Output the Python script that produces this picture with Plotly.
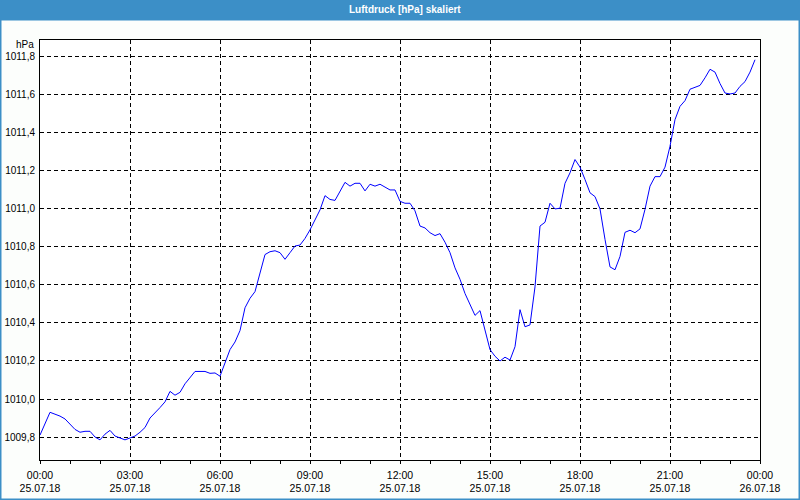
import plotly.graph_objects as go
import pandas as pd

title_text = "Luftdruck [hPa] skaliert"
unit_label = "hPa"

# 10-minute readings, 25.07.18 00:00 .. 23:50
start_time = "2018-07-25 00:00"
pressure_hpa = [
    1009.81, 1009.87, 1009.93, 1009.92, 1009.91, 1009.895, 1009.865, 1009.84, 1009.825, 1009.83,
    1009.83, 1009.80, 1009.785, 1009.815, 1009.835, 1009.805, 1009.795, 1009.785, 1009.795, 1009.805,
    1009.825, 1009.85, 1009.90, 1009.925, 1009.955, 1009.985, 1010.04, 1010.02, 1010.035, 1010.08,
    1010.11, 1010.145, 1010.145, 1010.145, 1010.135, 1010.137, 1010.12, 1010.196, 1010.26, 1010.30,
    1010.36, 1010.48, 1010.53, 1010.565, 1010.66, 1010.76, 1010.775, 1010.78, 1010.77, 1010.735,
    1010.77, 1010.805, 1010.81, 1010.845, 1010.89, 1010.94, 1010.995, 1011.07, 1011.05, 1011.045,
    1011.09, 1011.14, 1011.12, 1011.135, 1011.135, 1011.095, 1011.13, 1011.12, 1011.13, 1011.115,
    1011.10, 1011.10, 1011.04, 1011.03, 1011.03, 1010.99, 1010.91, 1010.90, 1010.875, 1010.86,
    1010.87, 1010.825, 1010.77, 1010.69, 1010.63, 1010.555, 1010.50, 1010.44, 1010.465, 1010.355,
    1010.26, 1010.225, 1010.20, 1010.22, 1010.205, 1010.275, 1010.47, 1010.38, 1010.39, 1010.59,
    1010.91, 1010.93, 1011.03, 1011.00, 1011.004, 1011.135, 1011.19, 1011.26, 1011.22, 1011.155,
    1011.085, 1011.065, 1011.00, 1010.84, 1010.695, 1010.68, 1010.75, 1010.877, 1010.888, 1010.875,
    1010.895, 1010.998, 1011.12, 1011.17, 1011.17, 1011.22, 1011.33, 1011.47, 1011.54, 1011.57,
    1011.63, 1011.64, 1011.65, 1011.69, 1011.735, 1011.72, 1011.66, 1011.61, 1011.605, 1011.61,
    1011.645, 1011.67, 1011.72, 1011.785,
]
times = pd.date_range(start_time, periods=len(pressure_hpa), freq="10min")

x_range = ["2018-07-25 00:00", "2018-07-26 00:00"]
y_range = [1009.679, 1011.889]

FONT = "Liberation Sans"
BLUE_BAR = "#3c8fc7"

fig = go.Figure()
fig.add_trace(go.Scatter(
    x=times, y=pressure_hpa, mode="lines",
    line=dict(color="#0000ff", width=1), showlegend=False,
))

# paper coords for the full 800x500 canvas (plot area 40..760 x 40..460)
L, R = -40 / 720, 760 / 720
T, B = 460 / 420, -40 / 420
bar_bottom = (460 - 20.5) / 420

fig.update_layout(
    width=800, height=500,
    margin=dict(l=40, r=40, t=40, b=40),
    paper_bgcolor="#fcfefc",
    plot_bgcolor="#ffffff",
    separators=",.",
    font=dict(family=FONT, size=10, color="#000000"),
    xaxis=dict(
        type="date", range=x_range, automargin=False,
        tick0="2018-07-25 00:00", dtick=3 * 3600000,
        tickformat="%H:%M<br>%d.%m.%y",
        ticks="outside", ticklen=3, tickcolor="#000000", ticklabelstandoff=2,
        tickfont=dict(family=FONT, size=10.5),
        showline=True, linecolor="#000000", linewidth=1, mirror=True,
        showgrid=True, gridcolor="#000000", gridwidth=1, griddash="4px,3px",
        minor=dict(dtick=3600000, ticks="outside", ticklen=3, tickcolor="#000000", showgrid=False),
        zeroline=False, fixedrange=True,
    ),
    yaxis=dict(
        range=y_range, tick0=1009.8, dtick=0.2, tickformat=".1f", automargin=False,
        ticks="", ticklabelstandoff=2,
        showline=True, linecolor="#000000", linewidth=1, mirror=True,
        showgrid=True, gridcolor="#000000", gridwidth=1, griddash="4px,3px",
        zeroline=False, fixedrange=True,
    ),
    shapes=[
        dict(type="rect", xref="paper", yref="paper", x0=L, x1=R, y0=bar_bottom, y1=T,
             fillcolor=BLUE_BAR, line=dict(width=0), layer="below"),
        dict(type="rect", xref="paper", yref="paper", x0=L, x1=R, y0=B, y1=T,
             fillcolor="rgba(0,0,0,0)", line=dict(color=BLUE_BAR, width=3)),
    ],
    annotations=[
        dict(text="<b>" + title_text + "</b>", xref="paper", yref="paper",
             x=(405 - 40) / 720, y=(460 - 9.5) / 420, xanchor="center", yanchor="middle",
             showarrow=False, font=dict(family=FONT, size=10, color="#ffffff")),
        dict(text=unit_label, xref="paper", yref="paper",
             x=-4 / 720, y=(460 - 45) / 420, xanchor="right", yanchor="middle",
             showarrow=False, font=dict(family=FONT, size=10, color="#000000")),
    ],
)

fig.write_html("out.html")
